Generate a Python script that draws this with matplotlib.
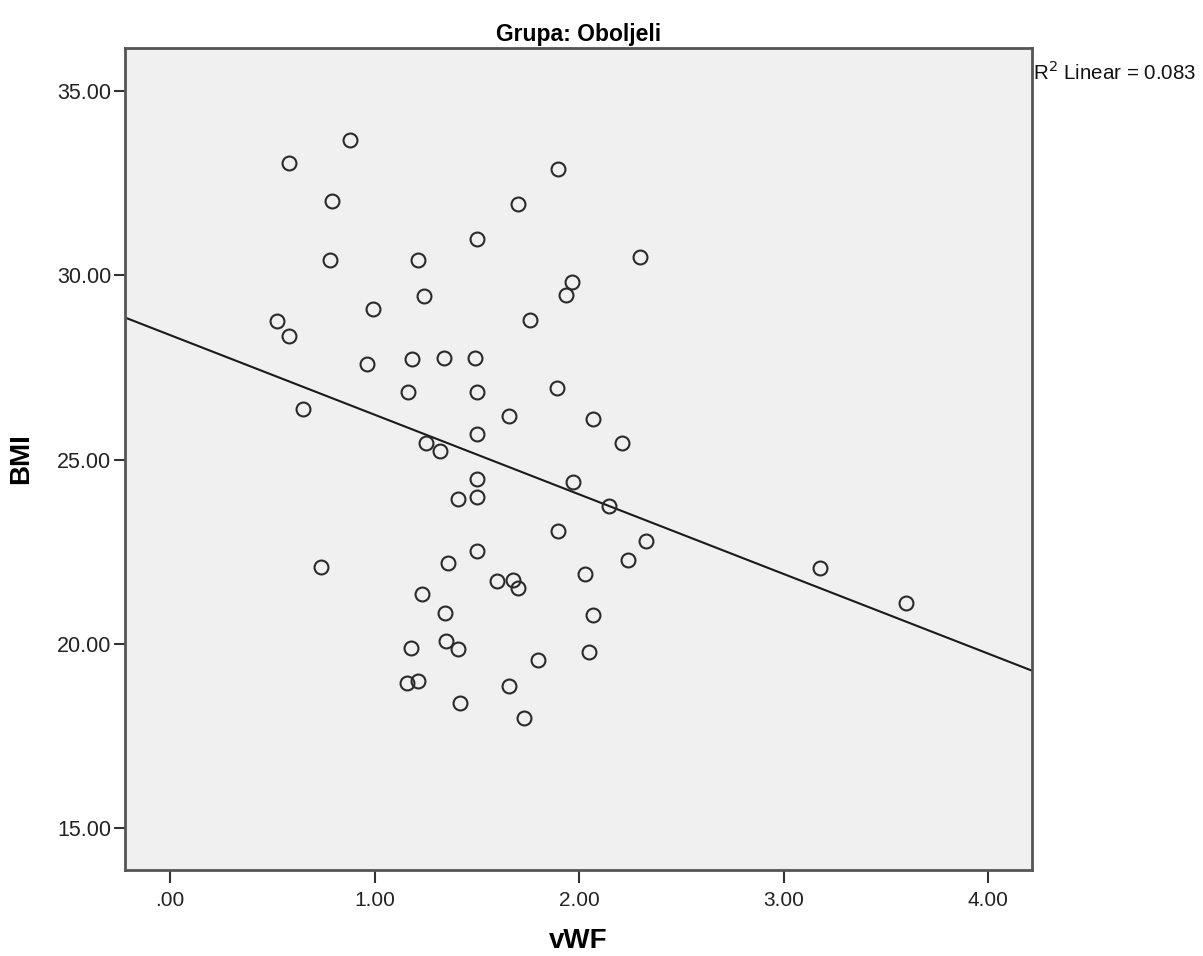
import numpy as np
import matplotlib
matplotlib.use("Agg")
import matplotlib.pyplot as plt

# vrijednosti procijenjene sa slike (Grupa: Oboljeli)
vwf = [0.582, 0.880, 0.792, 0.782, 0.523, 0.582, 0.993, 0.963, 0.650, 0.738,
       1.213, 1.242, 1.183, 1.340, 1.164, 1.252, 1.320, 1.408, 1.359, 1.232,
       1.345, 1.350, 1.178, 1.408, 1.159, 1.213, 1.418, 1.501, 1.491, 1.501,
       1.501, 1.501, 1.501, 1.501, 1.702, 1.760, 1.658, 1.599, 1.677, 1.702,
       1.658, 1.731, 1.800, 1.897, 1.966, 1.936, 1.892, 1.971, 1.897, 2.147,
       2.029, 2.068, 2.049, 2.240, 2.328, 2.298, 2.068, 2.210, 3.178, 3.599]
bmi = [33.05, 33.67, 32.02, 30.42, 28.77, 28.36, 29.09, 27.60, 26.36, 22.07,
       30.42, 29.44, 27.74, 27.76, 26.82, 25.46, 25.24, 23.94, 22.18, 21.34,
       20.83, 20.07, 19.88, 19.85, 18.93, 18.98, 18.39, 30.99, 27.76, 26.82,
       25.68, 24.46, 23.97, 22.51, 31.94, 28.79, 26.19, 21.69, 21.72, 21.50,
       18.85, 17.98, 19.55, 32.89, 29.82, 29.47, 26.95, 24.40, 23.05, 23.75,
       21.88, 20.77, 19.77, 22.26, 22.78, 30.50, 26.11, 25.46, 22.05, 21.10]

x_ticks = [0, 1, 2, 3, 4]
x_tick_labels = [".00", "1.00", "2.00", "3.00", "4.00"]
y_ticks = [15, 20, 25, 30, 35]
y_tick_labels = ["15.00", "20.00", "25.00", "30.00", "35.00"]
r2_text = "R$^2$ Linear = 0.083"

plt.rcParams['font.family'] = ['Liberation Sans', 'DejaVu Sans']

fig = plt.figure(figsize=(12.03, 9.56), dpi=100)
ax = fig.add_axes([0.1039, 0.0900, 0.7540, 0.8598])
ax.set_facecolor('#f0f0f0')

xlim = (-0.22, 4.215)
ax.set_xlim(*xlim)
ax.set_ylim(13.86, 36.17)

# linija linearne regresije
k, b = np.polyfit(vwf, bmi, 1)
xx = np.array(xlim)
ax.plot(xx, k * xx + b, color='#1a1a1a', lw=1.5, zorder=2)

ax.plot(vwf, bmi, linestyle='none', marker='o', markersize=10,
        markerfacecolor='none', markeredgecolor='#2a2a2a', markeredgewidth=1.5,
        zorder=3)

ax.set_xticks(x_ticks)
ax.set_xticklabels(x_tick_labels)
ax.set_yticks(y_ticks)
ax.set_yticklabels(y_tick_labels)
ax.tick_params(axis='x', direction='out', length=9, width=1.5, pad=6,
               labelsize=15, colors='#333333')
ax.tick_params(axis='y', direction='out', length=8, width=1.5, pad=2,
               labelsize=15.5, colors='#333333')
ax.tick_params(labelcolor='#222222')

for side, sp in ax.spines.items():
    sp.set_color('#555555')
    sp.set_linewidth(2)

ax.set_title("Grupa: Oboljeli", fontsize=16.5, fontweight='bold', pad=5)
ax.set_xlabel("vWF", fontsize=20, fontweight='bold', labelpad=13)
ax.set_ylabel("BMI", fontsize=20, fontweight='bold', labelpad=16)

ax.text(1.001, 0.985, r2_text, transform=ax.transAxes, ha='left', va='top',
        fontsize=14.8, color='#111111')

fig.savefig("out.png", dpi=100)
